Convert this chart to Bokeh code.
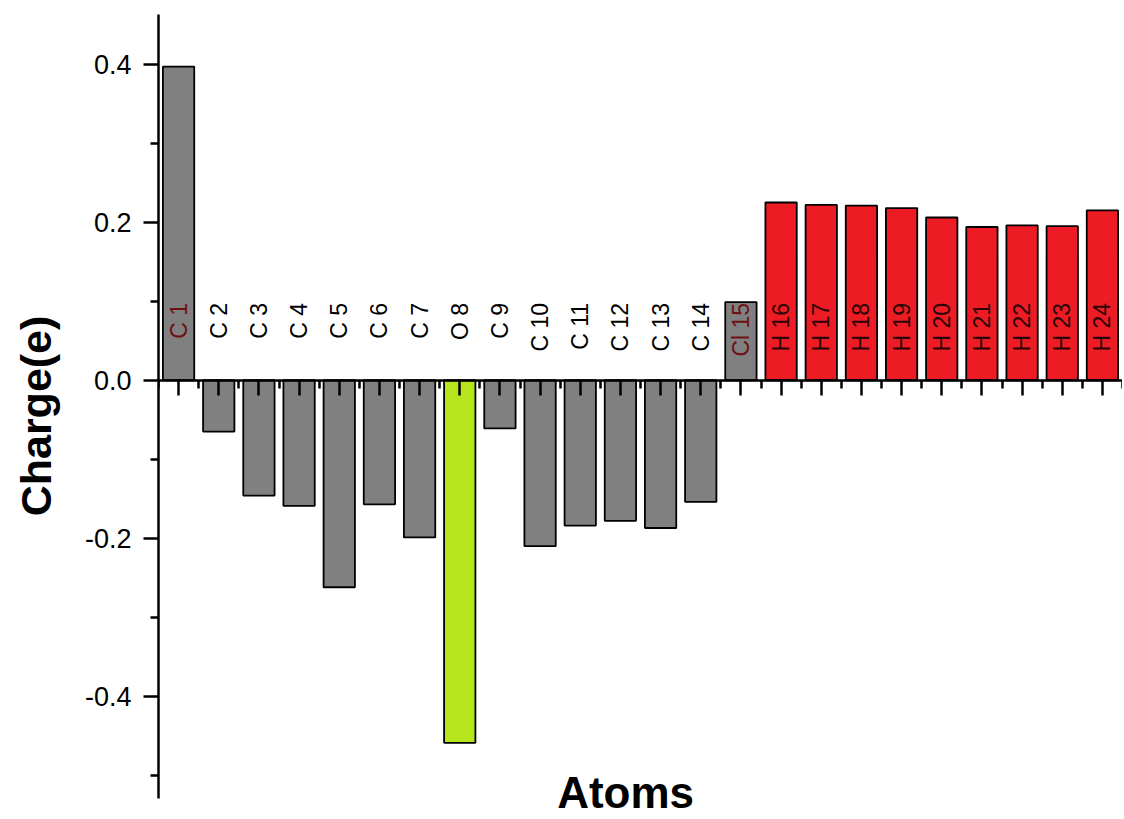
import numpy as np
from bokeh.plotting import figure
from bokeh.models import (ColumnDataSource, FixedTicker, NumeralTickFormatter,
                          Range1d, Label, CustomJSTickFormatter)
from bokeh.core.properties import value
from bokeh.embed import file_html
from bokeh.resources import INLINE

# ---- data ----
atoms = ["C 1", "C 2", "C 3", "C 4", "C 5", "C 6", "C 7", "O 8", "C 9", "C 10",
         "C 11", "C 12", "C 13", "C 14", "Cl 15", "H 16", "H 17", "H 18", "H 19",
         "H 20", "H 21", "H 22", "H 23", "H 24"]
charges = [0.397, -0.065, -0.146, -0.159, -0.262, -0.157, -0.199, -0.459, -0.061,
           -0.210, -0.184, -0.178, -0.187, -0.154, 0.099, 0.225, 0.222, 0.221,
           0.218, 0.206, 0.194, 0.196, 0.195, 0.215]
elements = ["C"] * 7 + ["O"] + ["C"] * 6 + ["Cl"] + ["H"] * 9
y_ticks = [-0.4, -0.2, 0.0, 0.2, 0.4]
y_minor = [-0.5, -0.3, -0.1, 0.1, 0.3]

bar_color = {"C": "#808080", "O": "#b5e61d", "Cl": "#808080", "H": "#ed1c24"}
label_color = {"C": "#000000", "O": "#000000", "Cl": "#6e1010", "H": "#2a0404"}

xs = list(range(1, len(atoms) + 1))
fills = [bar_color[e] for e in elements]
lcols = [label_color[e] for e in elements]
lcols[0] = "#6e1010"  # C1 label sits on its bar

src = ColumnDataSource(dict(x=xs, top=charges, fill=fills, atom=atoms,
                            lcol=lcols, ly=[0.098] * len(atoms)))

FONT = "Liberation Sans"

p = figure(width=1122, height=817, output_backend="svg", toolbar_location=None,
           x_range=Range1d(0.5, 24.5), y_range=Range1d(-0.5535, 0.463),
           min_border_left=158, min_border_right=0, min_border_top=14,
           min_border_bottom=0)
p.outline_line_color = None
p.grid.visible = False
p.background_fill_color = "white"

p.vbar(x="x", top="top", bottom=0, width=0.78, fill_color="fill",
       line_color="black", line_width=1.8, source=src)

p.text(x="x", y="ly", text="atom", angle=np.pi / 2, text_align="right",
       text_baseline="middle", text_color="lcol",
       text_font=value(FONT), text_font_size="23px", source=src)

# x axis at y = 0
xa = p.xaxis[0]
xa.fixed_location = 0
xa.bounds = (0.5, 24.5)
xa.ticker = FixedTicker(ticks=xs, minor_ticks=[i + 0.5 for i in range(0, 25)])
xa.formatter = CustomJSTickFormatter(code="return ''")
xa.major_tick_out = 15
xa.major_tick_in = 0
xa.minor_tick_out = 8
xa.minor_tick_in = 0
xa.axis_line_width = 2.5
xa.major_tick_line_width = 2.5
xa.minor_tick_line_width = 2.5
xa.axis_line_color = "black"

ya = p.yaxis[0]
ya.bounds = (-0.529, 0.463)
ya.ticker = FixedTicker(ticks=y_ticks, minor_ticks=y_minor)
ya.formatter = NumeralTickFormatter(format="0.0")
ya.major_label_text_font = FONT
ya.major_label_text_font_size = "27px"
ya.major_label_text_color = "black"
ya.major_label_standoff = 12
ya.major_tick_out = 15
ya.major_tick_in = 0
ya.minor_tick_out = 8
ya.minor_tick_in = 0
ya.axis_line_width = 2.5
ya.major_tick_line_width = 2.5
ya.minor_tick_line_width = 2.5
ya.axis_line_color = "black"
ya.axis_label = "Charge(e)"
ya.axis_label_text_font = FONT
ya.axis_label_text_font_style = "bold"
ya.axis_label_text_font_size = "43px"
ya.axis_label_text_color = "black"
ya.axis_label_standoff = 22

p.add_layout(Label(x=12.13, y=-0.5215, text="Atoms", text_font=FONT,
                   text_font_size="44px", text_font_style="bold",
                   text_align="center", text_baseline="middle",
                   text_color="black"))

open("out.html", "w").write(file_html(p, INLINE))
